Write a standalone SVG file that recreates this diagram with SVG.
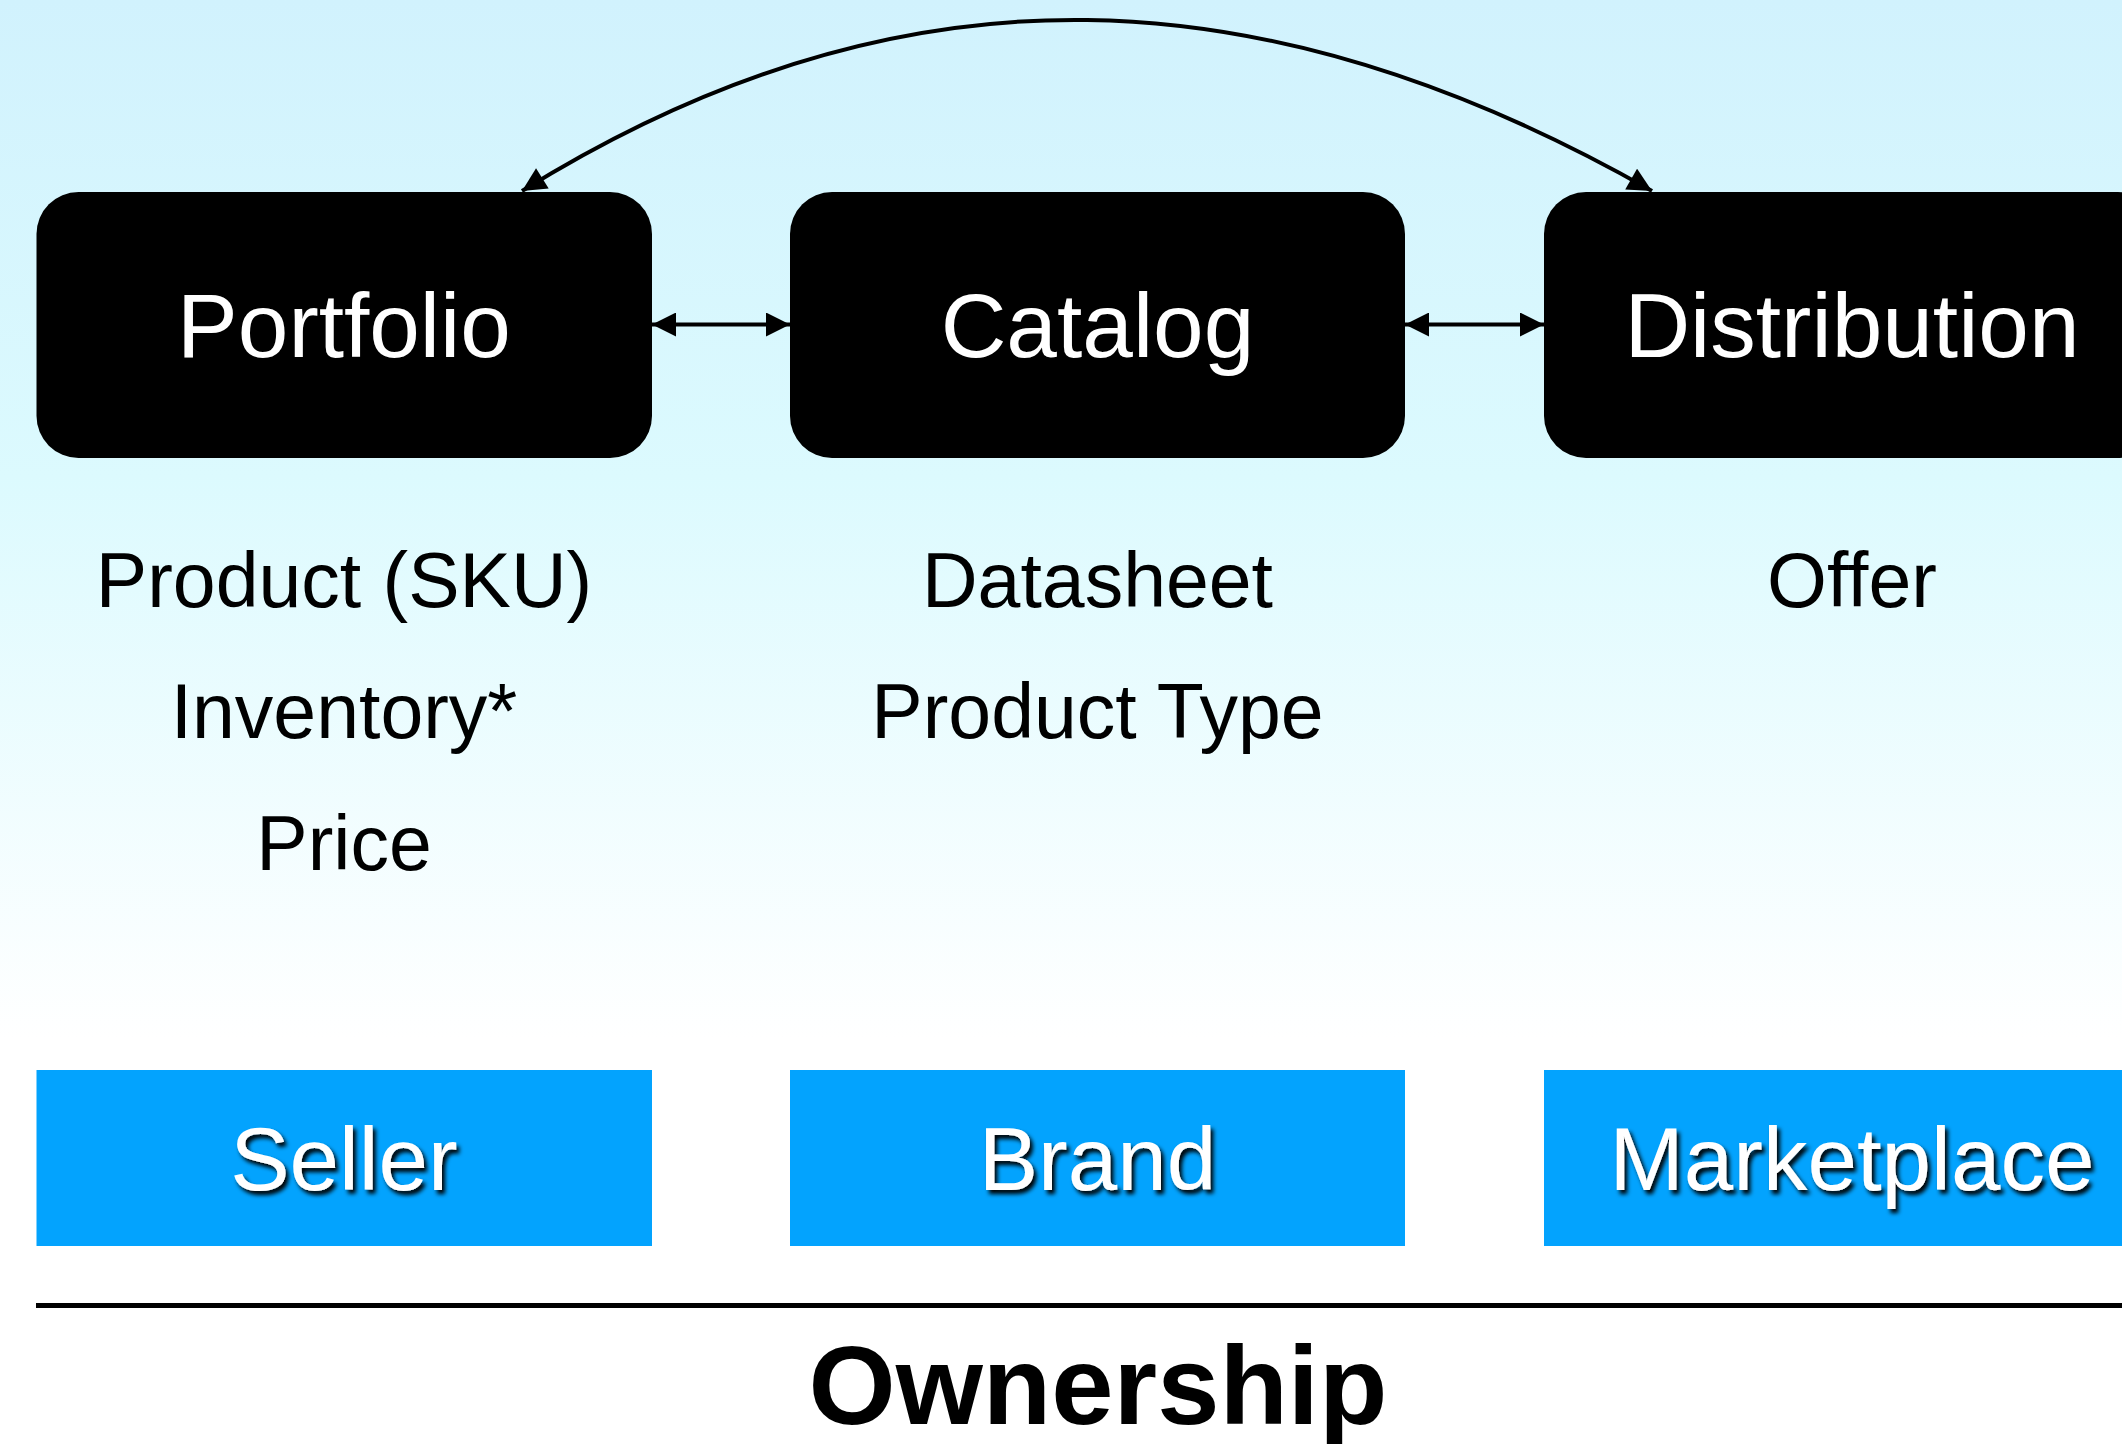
<svg xmlns="http://www.w3.org/2000/svg" width="2122" height="1444" viewBox="0 0 2122 1444">
<defs>
<linearGradient id="bg" x1="0" y1="0" x2="0" y2="1444" gradientUnits="userSpaceOnUse">
<stop offset="0" stop-color="#d1f2fd"/>
<stop offset="0.33" stop-color="#dcfafe"/>
<stop offset="0.72" stop-color="#ffffff"/>
<stop offset="1" stop-color="#ffffff"/>
</linearGradient>
<filter id="shadow" x="-10%" y="-20%" width="130%" height="150%">
<feDropShadow dx="3" dy="4" stdDeviation="2" flood-color="#000" flood-opacity="1"/>
</filter>
<marker id="ah" viewBox="0 0 10 10" refX="10" refY="5" markerUnits="userSpaceOnUse" markerWidth="25" markerHeight="24" orient="auto-start-reverse">
<path d="M0,0 L10,5 L0,10 z" fill="#000"/>
</marker>
</defs>
<style>
.node rect.dark{fill:#000}
.title{font-family:"Liberation Sans",Arial,sans-serif;font-size:91px;fill:#fff;text-anchor:middle}
.item{font-family:"Liberation Sans",Arial,sans-serif;font-size:77px;fill:#000;text-anchor:middle}
.owner rect{fill:#03a3fe}
.owner text{font-family:"Liberation Sans",Arial,sans-serif;font-size:89px;fill:#fff;text-anchor:middle;filter:url(#shadow)}
.conn{fill:none;stroke:#000;stroke-width:4;marker-start:url(#ah);marker-end:url(#ah)}
</style>
<rect width="2122" height="1444" fill="url(#bg)"/>

<g id="portfolio" class="node">
<rect class="dark" x="36.5" y="192" width="615.5" height="266" rx="42" ry="42"/>
<text class="title" x="344" y="357">Portfolio</text>
</g>
<g id="catalog" class="node">
<rect class="dark" x="790" y="192" width="615" height="266" rx="42" ry="42"/>
<text class="title" x="1097.5" y="357">Catalog</text>
</g>
<g id="distribution" class="node">
<rect class="dark" x="1544" y="192" width="616" height="266" rx="42" ry="42"/>
<text class="title" x="1852" y="357">Distribution</text>
</g>

<g id="portfolio-items">
<text class="item" x="344" y="607">Product (SKU)</text>
<text class="item" x="344" y="738">Inventory*</text>
<text class="item" x="344" y="870">Price</text>
</g>
<g id="catalog-items">
<text class="item" x="1097.5" y="607">Datasheet</text>
<text class="item" x="1097.5" y="738">Product Type</text>
</g>
<g id="distribution-items">
<text class="item" x="1852" y="607">Offer</text>
</g>

<g id="seller" class="owner">
<rect x="36.5" y="1070" width="615.5" height="176"/>
<text x="344" y="1190">Seller</text>
</g>
<g id="brand" class="owner">
<rect x="790" y="1070" width="615" height="176"/>
<text x="1097.5" y="1190">Brand</text>
</g>
<g id="marketplace" class="owner">
<rect x="1544" y="1070" width="616" height="176"/>
<text x="1852" y="1190">Marketplace</text>
</g>

<g id="connectors">
<path class="conn" d="M652,324.5 L790,324.5"/>
<path class="conn" d="M1405,324.5 L1544,324.5"/>
<path class="conn" d="M522,191 C905,-47 1269,-27 1652,191"/>
</g>

<g id="ownership">
<line x1="36" y1="1305.5" x2="2122" y2="1305.5" stroke="#000" stroke-width="5"/>
<text x="1098" y="1424" font-family="'Liberation Sans',Arial,sans-serif" font-size="112" font-weight="bold" text-anchor="middle" fill="#000">Ownership</text>
</g>
</svg>
